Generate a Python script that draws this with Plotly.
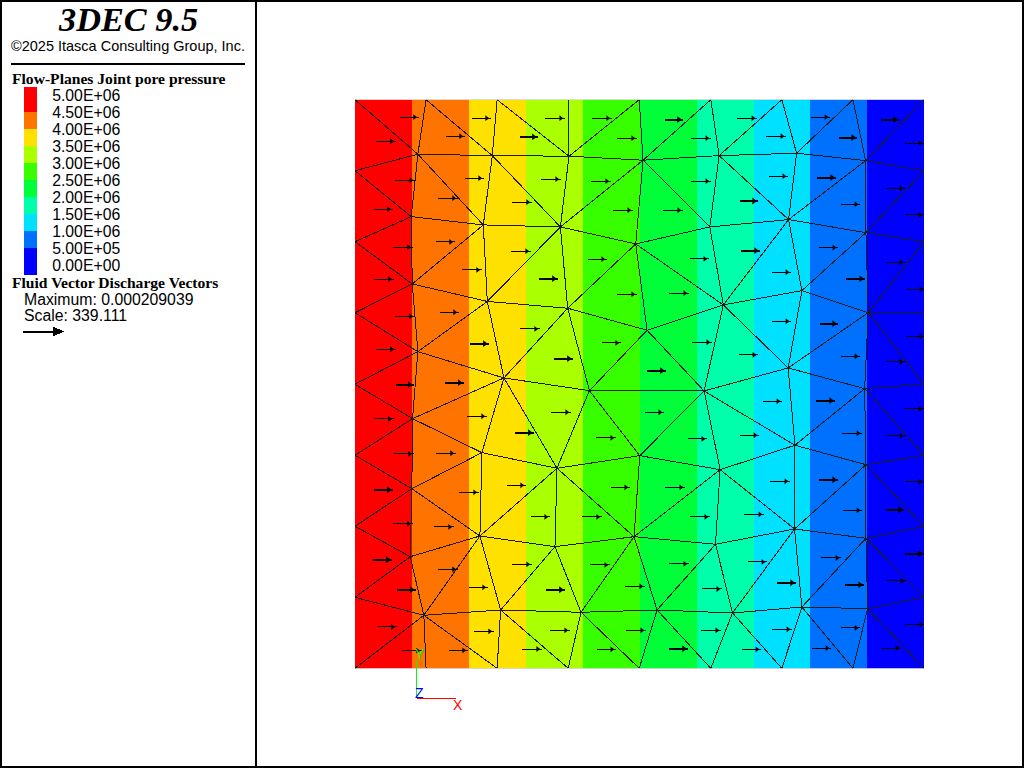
import plotly.graph_objects as go

# ---- pressure bands (model x edges, pressure per band) ----
band_edges = [0, 57, 114, 171, 228, 285, 341.5, 398.5, 454.5, 511.5, 568.5]
band_pressure = [4.75e6, 4.25e6, 3.75e6, 3.25e6, 2.75e6, 2.25e6, 1.75e6, 1.25e6, 0.75e6, 0.25e6]
band_colors = ["#FF0000", "#FF7300", "#FFE100", "#AAFF00", "#38FF00",
               "#00FF38", "#00FFAA", "#00E1FF", "#0070FF", "#0000FF"]
legend_edges = [-0.29e6, 0.5e6, 1.0e6, 1.5e6, 2.0e6, 2.5e6, 3.0e6, 3.5e6, 4.0e6, 4.5e6, 5.235e6]
legend_pressure = [0.25e6, 0.75e6, 1.25e6, 1.75e6, 2.25e6, 2.75e6, 3.25e6, 3.75e6, 4.25e6, 4.75e6]
tick_values = [5e6, 4.5e6, 4e6, 3.5e6, 3e6, 2.5e6, 2e6, 1.5e6, 1e6, 5e5, 0]
tick_labels = ["5.00E+06", "4.50E+06", "4.00E+06", "3.50E+06", "3.00E+06", "2.50E+06",
               "2.00E+06", "1.50E+06", "1.00E+06", "5.00E+05", "0.00E+00"]

# ---- mesh nodes (model coordinates) ----
node_ids = ["T0","T1","T2","T3","T4","T5","T6","T7","T8",
            "B0","B1","B2","B3","B4","B5","B6","B7","B8",
            "L1","L2","L3","L4","L5","L6","L7",
            "R1","R2","R3","R4","R5","R6","R7",
            "N11","N12","N13","N14","N15","N16","N17",
            "N21","N22","N23","N24","N25","N26","N27",
            "N31","N32","N33","N34","N35","N36","N37",
            "N41","N42","N43","N44","N45","N46",
            "N51","N52","N53","N54","N55","N56","N57",
            "N61",
            "N71","N72","N73","N74","N75","N76","N77",
            "N81","N82","N83","N84","N85","N86","N87"]
node_x = [0,71,142,213,284,355.5,426.5,497.5,568.5,
          0,71,142,213,284,355.5,426.5,497.5,568.5,
          0,0,0,0,0,0,0,
          568.5,568.5,568.5,568.5,568.5,568.5,568.5,
          62.8,137.2,213.8,287.8,363.8,441.2,510.2,
          56.2,128.2,205.2,280.5,354.5,433.2,510.5,
          57.2,132.2,212.5,291.8,368,446.5,512.8,
          62.8,148.8,234.2,348.8,432.8,509.2,
          57.5,126.8,201.8,284.5,364.8,439.5,510.5,
          56.8,
          55.2,124.8,199.8,278.8,360.2,439.2,510.5,
          68.8,145.5,225.8,301.8,377.2,446.5,512.2]
node_y = [568.5]*9 + [0]*9 + \
         [497.5,426.5,355.5,284,213,142,71] + \
         [497.5,426.5,355.5,284,213,142,71] + \
         [514,512.6,512,508,512.6,515,507.6,
          451.6,443.3,441.3,424.3,441.3,448.6,435.6,
          384.3,366.8,360,338,363.3,377.6,355.6,
          316.6,290.3,277.6,277.3,300.3,279.6,
          249.6,215.6,200,212.6,198.6,223,203.6,
          179.6,
          111.6,132.3,121.6,131.6,124,139.3,130,
          53,58.3,56,58.3,55.3,61.3,59.6]

edges = """T0-N11 T1-N11 T1-N12 T2-N12 T2-N13 T3-N13 T4-N13 T4-N14 T5-N14 T5-N15 T6-N15 T6-N16 T7-N16 T7-N17 T8-N17
L1-N11 N11-N12 N12-N13 N13-N14 N14-N15 N15-N16 N16-N17 N17-R1
N11-N21 N11-N22 N12-N22 N12-N23 N13-N23 N14-N23 N14-N24 N14-N25 N15-N25 N15-N26 N16-N26 N17-N26 N17-N27 R1-N27
L1-N21 L2-N21 N21-N22 N22-N23 N23-N24 N24-N25 N25-N26 N26-N27 N27-R2
L2-N31 N21-N31 N22-N31 N22-N32 N23-N32 N23-N33 N24-N33 N24-N34 N24-N35 N25-N35 N26-N35 N26-N36 N27-N36 N27-N37 R2-N37
L3-N31 N31-N32 N32-N33 N33-N34 N34-N35 N35-N36 N36-N37 N37-R3
L3-N41 N31-N41 N41-N32 N32-N42 N33-N42 N33-N43 N34-N43 N34-N44 N35-N44 N35-N45 N36-N45 N37-N45 N37-N46 N37-R4
L4-N41 N41-N42 N42-N43 N43-N44 N44-N45 N45-N46 N46-R4
L4-N51 N41-N51 N51-N42 N42-N52 N42-N53 N43-N53 N43-N54 N44-N54 N44-N55 N44-N56 N45-N56 N46-N56 N46-N57 N46-R5
L5-N51 N51-N52 N52-N53 N53-N54 N54-N55 N55-N56 N56-N57 N57-R5
L5-N61 N51-N61 N52-N61 N52-N72 N72-N53 N53-N73 N53-N74 N54-N74 N55-N74 N55-N75 N55-N76 N56-N76 N57-N76 N57-N77 N57-R6
L6-N61 N61-N71 N61-N72 L6-N71 N71-N72 N72-N73 N73-N74 N74-N75 N75-N76 N76-N77 N77-R6
L7-N71 N71-N81 N72-N81 N72-N82 N73-N82 N73-N83 N74-N83 N74-N84 N75-N84 N75-N85 N76-N85 N76-N86 N77-N86 N77-N87 N77-R7
L7-N81 N81-N82 N82-N83 N83-N84 N84-N85 N85-N86 N86-N87 N87-R7
B0-N81 B1-N81 B2-N81 B2-N82 B3-N82 B3-N83 B4-N83 B4-N84 B5-N84 B5-N85 B6-N85 B6-N86 B7-N86 B7-N87 B8-N87""".split()

# ---- discharge vectors: tail x, tail y, drawn length, heavy stroke ----
arrow_x = [44.5,20.5,116.5,90.5,189.5,164.5,236.5,261.5,39.8,109.5,82.5,185.5,156.5,235.5,18.5,257.5,80.5,37.5,155.5,232.5,106.5,18.5,183.5,261.5,
           309.5,381.5,455.5,525.5,335.5,410.5,483.5,549.5,335.5,413.5,461.5,530.5,307.5,384.5,485.5,549.5,334.5,385.5,463.5,530.5,416.5,490.5,550.5,313.5,
           39.5,84.5,164.5,114.5,20.5,246.5,198.5,40.5,89.5,18.5,111.5,195.5,159.5,240.5,38.5,80.5,18.5,103.5,151.5,255.5,
           416.5,464.5,550.5,336.5,383.5,485.5,530.5,291.5,407.5,460.5,548.5,289.5,332.5,384.5,486.5,529.5,414.5,463.5,549.5,309.5,
           37.5,78.5,175.5,226.5,156.5,17.5,82.5,234.5,113.5,269.5,41.5,190.5,22.5,118.5,194.5,270.5,46.5,93.5,166.5,241.5,
           334.5,388.5,487.5,530.5,313.5,392.5,465.5,549.5,346.5,421.5,489.5,530.5,345.5,416.5,485.5,549.5,313.5,386.5,456.5,526.5]
arrow_y = [551,527,550,532,550,531.3,550,530,488,490,470,489,466,487,459,458,426.3,421,417,409,398.3,389,389.6,374,
           548.6,550,551,548.6,530,532,530.6,525,487,492,490.6,480,458,467.3,464,453.3,409.3,417.6,420.6,406,396,389.6,379,375,
           352,356,339.3,324.6,319,325.3,309.6,283.6,285.6,249.3,252,256,235.6,230.3,214.3,215,178.6,176,183,181,
           347,344.6,332,326,313.3,312,306.3,297.6,267,267.6,259.3,256,229.3,233,235,232.3,187,188.6,186.3,181,
           144.6,141.3,151.3,151.3,104,108.6,99,103.3,81,82,78.6,78.6,41.3,37,38,38,17.6,18,19.3,19,
           151.3,154,158,158.6,104.3,106.3,110.3,114.6,79.3,85.6,83.6,87.3,38,39,40.3,44,19.6,19,20.3,20.3]
arrow_len = [19,20,19,19,20,18,20,20,20,19,20,20,20,20,19,20,19,20,20,19,20,20,19,20,
             18,20,19,18,20,20,18,19,20,19,19,19,20,18,19,19,19,19,19,19,19,19,19,20,
             20,19,20,19,20,19,19,18,19,20,20,20,19,20,20,20,19,20,19,19,
             19,18,19,20,19,19,19,19,19,19,20,19,19,19,20,20,20,19,19,20,
             20,20,19,20,20,19,20,20,19,20,19,19,19,20,20,20,20,19,20,19,
             20,20,19,18,20,19,20,19,20,19,19,20,20,20,19,20,19,19,19,19]
arrow_heavy = [0,0,0,0,0,1,0,0,0,0,0,0,0,0,0,0,0,0,0,0,0,0,1,0,
               1,0,0,1,0,0,1,0,0,0,1,0,0,1,0,0,0,1,0,0,0,1,0,0,
               0,0,0,1,0,0,1,1,1,0,0,0,1,0,0,0,1,0,0,0,
               0,1,0,0,0,0,0,1,0,1,0,0,0,0,0,0,0,1,0,0,
               0,0,0,0,0,1,0,0,0,0,1,1,0,0,0,0,0,0,0,0,
               0,0,0,1,0,0,0,1,0,1,1,0,0,0,0,0,1,0,0,0]

W, H = 1024, 768
px = lambda x: x / W
py = lambda y: 1 - y / H

# ---- build traces ----
lookup = {n: (x, y) for n, x, y in zip(node_ids, node_x, node_y)}
ex, ey = [], []
for e in edges:
    a, b = e.split("-")
    ex += [lookup[a][0], lookup[b][0], None]
    ey += [lookup[a][1], lookup[b][1], None]

stops = []
ordered = band_colors[::-1]
for i, c in enumerate(ordered):
    stops += [[i / 10, c], [(i + 1) / 10, c]]

fig = go.Figure()
fig.add_trace(go.Heatmap(x=band_edges, y=[0, 568.5], z=[band_pressure], zmin=0, zmax=5e6,
                         colorscale=stops, showscale=False, hoverinfo="skip", zsmooth=False,
                         xaxis="x", yaxis="y"))
fig.add_trace(go.Scatter(x=[0, 568.5, None, 0, 568.5], y=[568.5, 568.5, None, 0, 0], mode="lines",
                         line=dict(color="#808080", width=1), hoverinfo="skip", cliponaxis=False))
fig.add_trace(go.Scatter(x=ex, y=ey, mode="lines", line=dict(color="#1c1c1c", width=1),
                         hoverinfo="skip", cliponaxis=False))

for heavy, lw, ms in ((0, 1, 5), (1, 2, 6)):
    ax, ay, hx, hy = [], [], [], []
    for x, y, l, h in zip(arrow_x, arrow_y, arrow_len, arrow_heavy):
        if h == heavy:
            ax += [x, x + l, None]
            ay += [y, y, None]
            hx.append(x + l - 4)
            hy.append(y)
    fig.add_trace(go.Scatter(x=ax, y=ay, mode="lines", line=dict(color="#000000", width=lw),
                             hoverinfo="skip", cliponaxis=False))
    fig.add_trace(go.Scatter(x=hx, y=hy, mode="markers", cliponaxis=False, hoverinfo="skip",
                             marker=dict(symbol="triangle-right", size=ms, color="#000000",
                                         line=dict(width=0))))

fig.add_trace(go.Heatmap(x=[0, 1], y=legend_edges, z=[[p] for p in legend_pressure], zmin=0, zmax=5e6,
                         colorscale=stops, showscale=False, hoverinfo="skip", zsmooth=False,
                         xaxis="x2", yaxis="y2"))

# ---- page furniture ----
black = "#000000"
shapes = [
    dict(type="rect", xref="paper", yref="paper", x0=px(1), x1=px(1023), y0=py(1), y1=py(767),
         line=dict(color=black, width=2), fillcolor="rgba(0,0,0,0)"),
    dict(type="line", xref="paper", yref="paper", x0=px(255.5), x1=px(255.5), y0=py(0), y1=py(768),
         line=dict(color=black, width=2)),
    dict(type="line", xref="paper", yref="paper", x0=px(11), x1=px(245), y0=py(63.5), y1=py(63.5),
         line=dict(color=black, width=2)),
    dict(type="line", xref="paper", yref="paper", x0=px(23), x1=px(55), y0=py(331.5), y1=py(331.5),
         line=dict(color=black, width=2)),
    dict(type="path", xref="paper", yref="paper", fillcolor=black, line=dict(color=black, width=0),
         path=f"M {px(53)} {py(326.5)} L {px(64)} {py(331.5)} L {px(53)} {py(336.5)} Z"),
    dict(type="line", xref="paper", yref="paper", x0=px(416.5), x1=px(416.5), y0=py(698.3), y1=py(660),
         line=dict(color="#00FF00", width=1)),
    dict(type="line", xref="paper", yref="paper", x0=px(416.5), x1=px(455.7), y0=py(698.3), y1=py(698.3),
         line=dict(color="#FF0000", width=1)),
]


def label(text, x, y, size, family, color=black, anchor="left"):
    return dict(text=text, x=px(x), y=py(y), xref="paper", yref="paper", showarrow=False,
                xanchor=anchor, yanchor="middle", align=anchor,
                font=dict(family=family, size=size, color=color),
                borderpad=0, borderwidth=0)


serif = "Liberation Serif"
sans = "Liberation Sans"
annotations = [
    label("<b><i>3DEC 9.5</i></b>", 128, 19, 34.3, serif, anchor="center"),
    label("©2025 Itasca Consulting Group, Inc.", 127.5, 46, 14.5, sans, anchor="center"),
    label("<b>Flow-Planes Joint pore pressure</b>", 12, 78.5, 15.6, serif),
    label("<b>Fluid Vector Discharge Vectors</b>", 12, 283, 15.6, serif),
    label("Maximum: 0.000209039", 24, 299.5, 15.8, sans),
    label("Scale: 339.111", 24, 316, 15.8, sans),
    label("Y", 419.5, 653.5, 14, sans, "#00FF00", "center"),
    label("Z", 419, 693, 14, sans, "#0000FF", "center"),
    label("X", 457.5, 705, 14, sans, "#FF0000", "center"),
]

hidden = dict(visible=False, showgrid=False, zeroline=False, fixedrange=True)
fig.update_layout(
    width=W, height=H, margin=dict(l=0, r=0, t=0, b=0, pad=0),
    paper_bgcolor="#FFFFFF", plot_bgcolor="#FFFFFF", showlegend=False,
    shapes=shapes, annotations=annotations,
    xaxis=dict(domain=[px(355), px(924)], range=[0, 568.5], **hidden),
    yaxis=dict(domain=[py(668.3), py(99.7)], range=[0, 568.5], **hidden),
    xaxis2=dict(domain=[px(24), px(37)], range=[0, 1], anchor="y2", **hidden),
    yaxis2=dict(domain=[py(275), py(87)], range=[-0.29e6, 5.235e6], anchor="x2", side="right",
                tickmode="array", tickvals=tick_values, ticktext=tick_labels,
                ticks="outside", ticklen=11, tickcolor="rgba(0,0,0,0)", showline=False,
                showgrid=False, zeroline=False, fixedrange=True,
                tickfont=dict(family=sans, size=15.8, color=black)),
)

fig.write_html("out.html", config=dict(displayModeBar=False),
               post_script="document.body.style.margin='0';document.documentElement.style.overflow='hidden';"
                           "document.querySelectorAll('.js-line,.shapelayer path').forEach(p=>p.style.shapeRendering='crispEdges');")
